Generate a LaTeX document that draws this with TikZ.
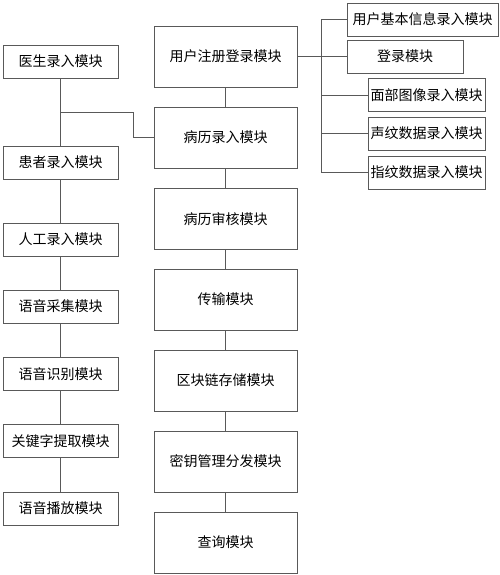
\documentclass[tikz,border=0pt]{standalone}
\usepackage{fontspec}
\setmainfont{Noto Sans CJK SC}
\usetikzlibrary{positioning,calc}

\begin{document}
\begin{tikzpicture}[
    x=1pt, y=-1pt,
    box/.style={draw=black!65, line width=0.8pt, inner sep=0pt, align=center},
    small/.style={box, minimum width=115pt, minimum height=33pt},
    big/.style={box, minimum width=143pt, minimum height=61pt},
    sub/.style={box, minimum height=33pt},
    link/.style={draw=black!65, line width=0.8pt},
    font=\fontsize{14pt}{16pt}\selectfont
]
\useasboundingbox (0,0) rectangle (500,575);

% Left column
\node[small] (yisheng)  at (60.5,61.5) {医生录入模块};
\node[small] (huanzhe)  at (60.5,162.5) {患者录入模块};
\node[small] (rengong)  at (60.5,239.5) {人工录入模块};
\node[small] (caiji)    at (60.5,306.5) {语音采集模块};
\node[small] (shibie)   at (60.5,374) {语音识别模块};
\node[small] (guanjian) at (60.5,441) {关键字提取模块};
\node[small] (bofang)   at (60.5,508.5) {语音播放模块};

% Middle column
\node[big] (zhuce)    at (225.5,56.5) {用户注册登录模块};
\node[big] (bingli)   at (225.5,137.5) {病历录入模块};
\node[big] (shenhe)   at (225.5,219) {病历审核模块};
\node[big] (chuanshu) at (225.5,299.5) {传输模块};
\node[big] (qukuai)   at (225.5,380.5) {区块链存储模块};
\node[big] (miyao)    at (225.5,461.5) {密钥管理分发模块};
\node[big] (chaxun)   at (225.5,542.5) {查询模块};

% Right column
\node[sub, minimum width=151pt] (jiben)  at (422.5,19.5) {用户基本信息录入模块};
\node[sub, minimum width=116pt] (denglu) at (405,56.5) {登录模块};
\node[sub, minimum width=117pt] (mianbu) at (426.5,95) {面部图像录入模块};
\node[sub, minimum width=117pt] (shengwen) at (426.5,133.5) {声纹数据录入模块};
\node[sub, minimum width=117pt] (zhiwen) at (426.5,172.5) {指纹数据录入模块};

% Links
\draw[link] (yisheng) -- (huanzhe) -- (rengong) -- (caiji) -- (shibie) -- (guanjian) -- (bofang);
\coordinate (jn) at ($(yisheng.south)!0.5!(huanzhe.north)$);
\draw[link] (jn) -- ++(72.5,0) |- (bingli.west);

\draw[link] (zhuce) -- (bingli) -- (shenhe) -- (chuanshu) -- (qukuai) -- (miyao) -- (chaxun);

\coordinate (bus) at (321,0);
\draw[link] (zhuce.east) -- (denglu.west);
\draw[link] (jiben.west) -- (jiben.west -| bus) |- (zhiwen.west);
\draw[link] (bus |- mianbu.west) -- (mianbu.west);
\draw[link] (bus |- shengwen.west) -- (shengwen.west);

\end{tikzpicture}
\end{document}
